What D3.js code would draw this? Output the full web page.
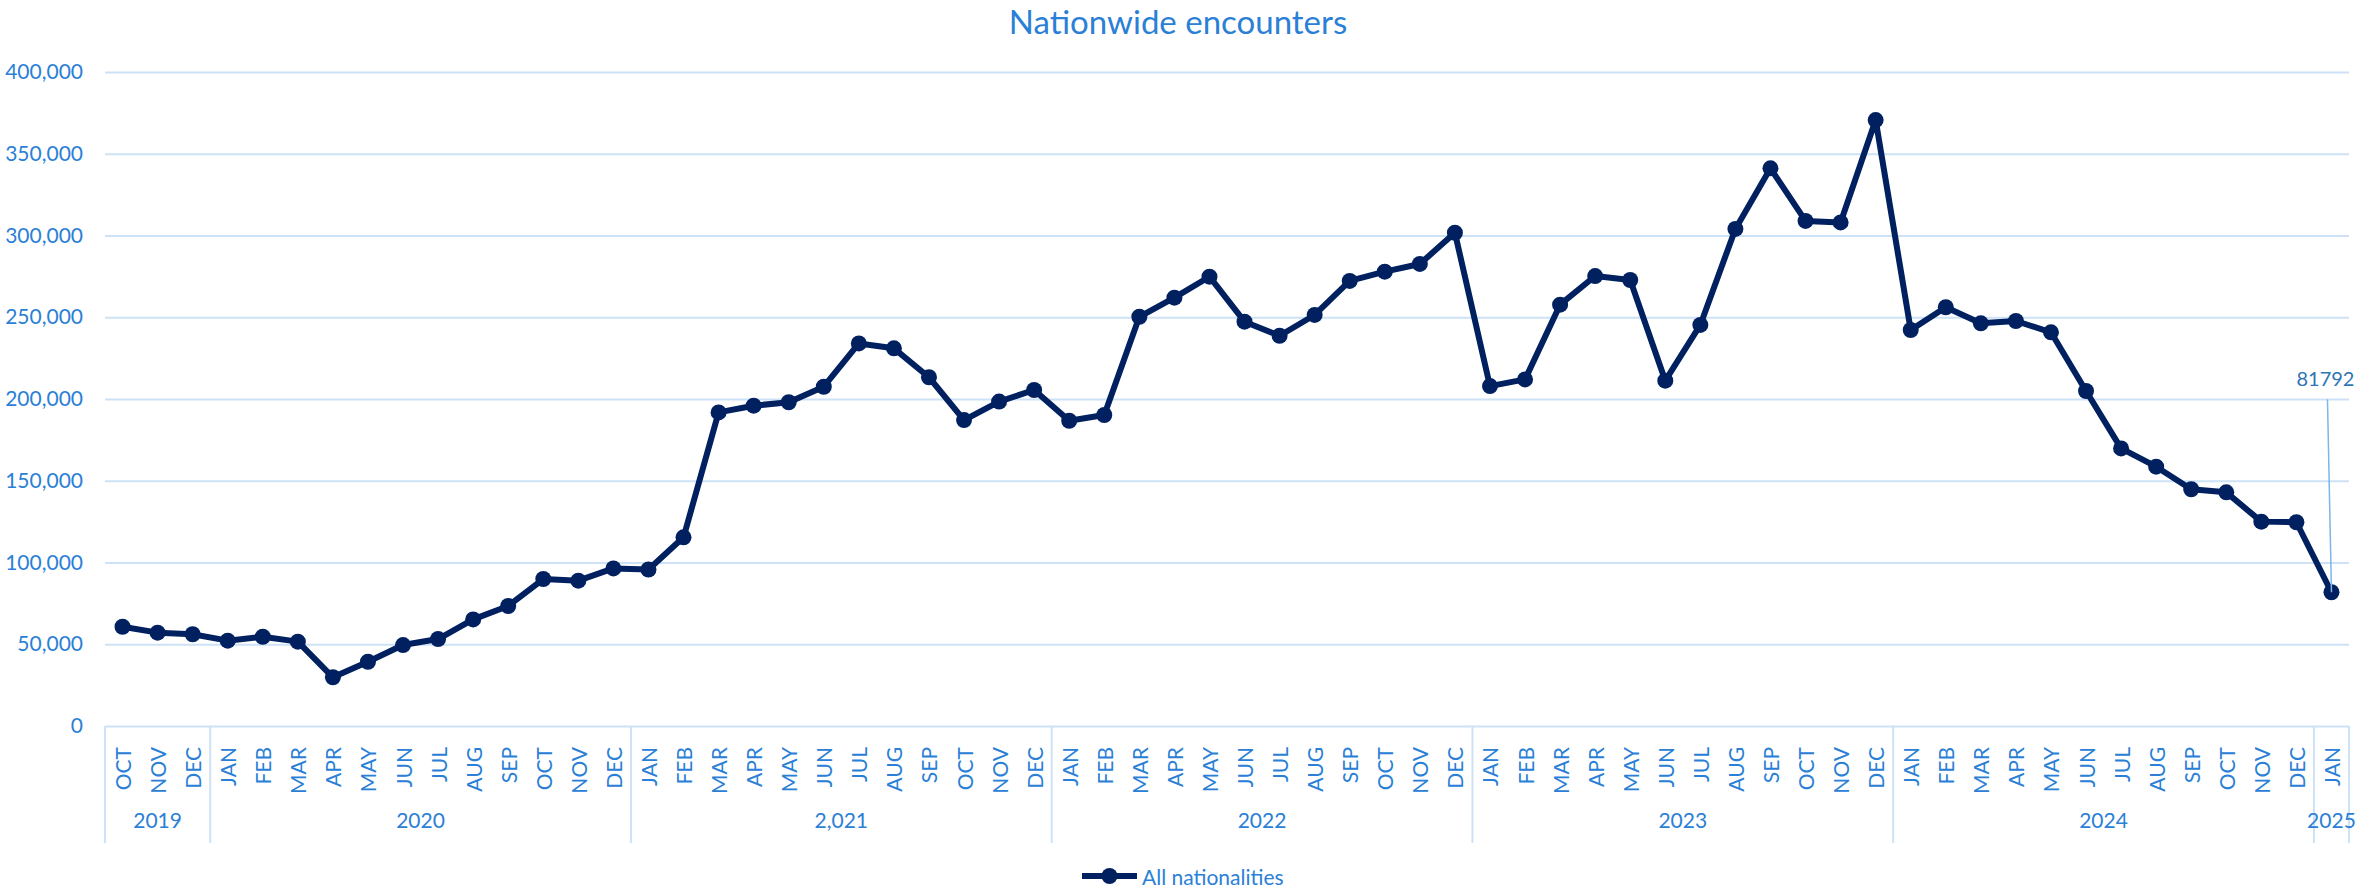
<!DOCTYPE html>
<html>
<head>
<meta charset="utf-8">
<script src="https://cdn.jsdelivr.net/npm/d3@7"></script>
<style>
  body { margin: 0; background: #fff; }
  text { font-family: Lato, "Open Sans", sans-serif; }
</style>
</head>
<body>
<div id="chart"></div>
<script>
// Dados: encontros mensais (OCT 2019 - JAN 2025)
const years = ['2019', '2020', '2,021', '2022', '2023', '2024', '2025'];
const monthsPerYear = [
  ['OCT', 'NOV', 'DEC'],
  ['JAN', 'FEB', 'MAR', 'APR', 'MAY', 'JUN', 'JUL', 'AUG', 'SEP', 'OCT', 'NOV', 'DEC'],
  ['JAN', 'FEB', 'MAR', 'APR', 'MAY', 'JUN', 'JUL', 'AUG', 'SEP', 'OCT', 'NOV', 'DEC'],
  ['JAN', 'FEB', 'MAR', 'APR', 'MAY', 'JUN', 'JUL', 'AUG', 'SEP', 'OCT', 'NOV', 'DEC'],
  ['JAN', 'FEB', 'MAR', 'APR', 'MAY', 'JUN', 'JUL', 'AUG', 'SEP', 'OCT', 'NOV', 'DEC'],
  ['JAN', 'FEB', 'MAR', 'APR', 'MAY', 'JUN', 'JUL', 'AUG', 'SEP', 'OCT', 'NOV', 'DEC'],
  ['JAN']
];
const encounters = [
  60700, 57100, 56100,
  52200, 54600, 51600, 29800, 39300, 49500, 53200, 65200, 73400, 89900, 88900, 96400,
  95700, 115400, 191800, 195900, 198000, 207500, 234000, 231000, 213300, 187100, 198400, 205500,
  186700, 190200, 250300, 262000, 274800, 247300, 238700, 251400, 272200, 277900, 282600, 301700,
  207900, 212000, 257700, 275200, 272800, 211200, 245300, 304000, 341100, 308900, 308000, 370600,
  242200, 256100, 246300, 247700, 240800, 204900, 169800, 158600, 144800, 142900, 125000, 124600,
  81792
];
const yTicks = [0, 50000, 100000, 150000, 200000, 250000, 300000, 350000, 400000];
const seriesName = 'All nationalities';
const chartTitle = 'Nationwide encounters';

// Construir lista de pontos
const points = [];
monthsPerYear.forEach((ms, yi) => {
  ms.forEach(m => points.push({ key: yi + '-' + m, month: m, year: years[yi] }));
});
points.forEach((p, i) => p.value = encounters[i]);

const W = 2356, H = 890;
const margin = { top: 72, right: 7, bottom: 164, left: 105 };
const width = W - margin.left - margin.right;
const height = H - margin.top - margin.bottom;

const textBlue = '#2a80d6';
const gridBlue = '#cde2f6';
const navy = '#002060';

const svg = d3.select('#chart').append('svg')
  .attr('width', W)
  .attr('height', H);

const g = svg.append('g')
  .attr('transform', `translate(${margin.left},${margin.top})`);

const x = d3.scaleBand()
  .domain(points.map(d => d.key))
  .range([0, width]);

const y = d3.scaleLinear()
  .domain([0, 400000])
  .range([height, 0]);

// Título
svg.append('text')
  .attr('x', W / 2)
  .attr('y', 34)
  .attr('text-anchor', 'middle')
  .attr('fill', textBlue)
  .style('font-size', '33px')
  .text(chartTitle);

// Grade e eixo Y
const yAxis = g.append('g')
  .call(d3.axisLeft(y).tickValues(yTicks).tickFormat(d3.format(',')).tickSize(-width).tickPadding(22));
yAxis.select('.domain').remove();
yAxis.selectAll('.tick line').attr('stroke', gridBlue).attr('stroke-width', 2);
yAxis.selectAll('.tick text')
  .attr('fill', textBlue)
  .style('font-size', '21px')
  .style('font-family', 'Lato, sans-serif');

// Eixo X: meses
g.selectAll('.month')
  .data(points)
  .enter()
  .append('text')
  .attr('class', 'month')
  .attr('transform', d => `translate(${x(d.key) + x.bandwidth() / 2},${height + 21}) rotate(-90)`)
  .attr('text-anchor', 'end')
  .attr('dominant-baseline', 'central')
  .attr('fill', textBlue)
  .style('font-size', '21px')
  .text(d => d.month);

// Eixo X: anos e separadores
let idx = 0;
const yearSpans = years.map((yr, yi) => {
  const start = idx;
  idx += monthsPerYear[yi].length;
  return { year: yr, start: points[start].key, end: points[idx - 1].key };
});

g.selectAll('.year-sep')
  .data([yearSpans[0].start].concat(yearSpans.map(s => s.end)))
  .enter()
  .append('line')
  .attr('class', 'year-sep')
  .attr('x1', (k, i) => i === 0 ? x(k) : x(k) + x.bandwidth())
  .attr('x2', (k, i) => i === 0 ? x(k) : x(k) + x.bandwidth())
  .attr('y1', height)
  .attr('y2', height + 117)
  .attr('stroke', gridBlue)
  .attr('stroke-width', 2);

g.selectAll('.year')
  .data(yearSpans)
  .enter()
  .append('text')
  .attr('class', 'year')
  .attr('x', d => (x(d.start) + x(d.end) + x.bandwidth()) / 2)
  .attr('y', height + 102)
  .attr('text-anchor', 'middle')
  .attr('fill', textBlue)
  .style('font-size', '21px')
  .text(d => d.year);

// Linha da série
const line = d3.line()
  .x(d => x(d.key) + x.bandwidth() / 2)
  .y(d => y(d.value));

g.append('path')
  .datum(points)
  .attr('fill', 'none')
  .attr('stroke', navy)
  .attr('stroke-width', 6)
  .attr('stroke-linejoin', 'round')
  .attr('d', line);

g.selectAll('.dot')
  .data(points)
  .enter()
  .append('circle')
  .attr('class', 'dot')
  .attr('cx', d => x(d.key) + x.bandwidth() / 2)
  .attr('cy', d => y(d.value))
  .attr('r', 8)
  .attr('fill', navy);

// Rótulo do último ponto
const last = points[points.length - 1];
const lx = x(last.key) + x.bandwidth() / 2;
const ly = y(last.value);
g.append('line')
  .attr('x1', lx)
  .attr('y1', ly)
  .attr('x2', lx - 4)
  .attr('y2', ly - 193)
  .attr('stroke', '#7db6ea')
  .attr('stroke-width', 1.5);

g.append('text')
  .attr('x', lx - 35)
  .attr('y', ly - 206)
  .attr('fill', '#2e75b6')
  .style('font-size', '20px')
  .text(last.value);

// Legenda
const legend = svg.append('g')
  .attr('transform', `translate(1082,876)`);
legend.append('line')
  .attr('x1', 0).attr('x2', 55)
  .attr('stroke', navy)
  .attr('stroke-width', 6);
legend.append('circle')
  .attr('cx', 27.5)
  .attr('r', 8)
  .attr('fill', navy);
legend.append('text')
  .attr('x', 60)
  .attr('dominant-baseline', 'central')
  .attr('fill', textBlue)
  .style('font-size', '21px')
  .text(seriesName);
</script>
</body>
</html>
